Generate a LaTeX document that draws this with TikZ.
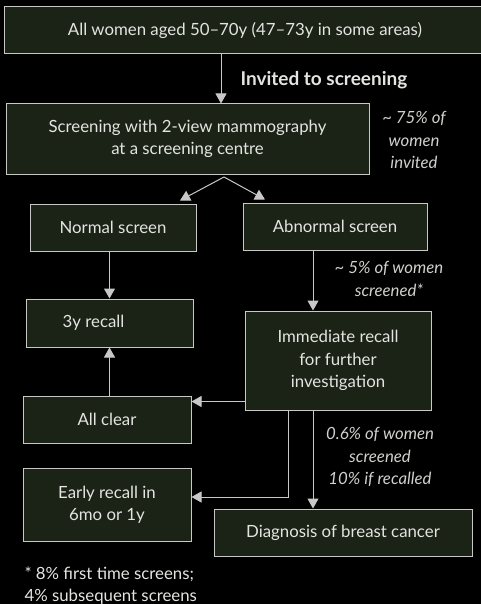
\documentclass[tikz,border=0pt]{standalone}
\usepackage{fontspec}
\setmainfont{Lato}
\usetikzlibrary{positioning,arrows.meta,calc}
\definecolor{boxfill}{HTML}{1B2316}
\definecolor{edge}{HTML}{C8C8C6}
\definecolor{ink}{HTML}{E4E4E0}
\definecolor{note}{HTML}{D0D0CC}

\begin{document}
\begin{tikzpicture}[
  x=1pt, y=-1pt,
  font=\fontsize{16.8}{22.5}\selectfont,
  box/.style={draw=edge, fill=boxfill, text=ink, line width=1pt,
              align=center, inner sep=3pt},
  notelabel/.style={text=note, align=center, font=\fontsize{16.8}{22.5}\selectfont\itshape},
  arrow/.style={-{Triangle[width=11pt,length=10pt]}, draw=edge, line width=1pt}
]
\fill[black] (0,0) rectangle (481,604);
\useasboundingbox (0,0) rectangle (481,604);

\node[box, minimum width=482pt, minimum height=47pt] (pop) at (245,30.5)
  {All women aged 50--70y (47--73y in some areas)};
\node[box, minimum width=363pt, minimum height=70pt] (screen) at (187.5,139)
  {Screening with 2-view mammography\\at a screening centre};
\node[box, minimum width=166pt, minimum height=47pt] (normal) at (113,227.5)
  {Normal screen};
\node[box, minimum width=184pt, minimum height=47pt] (abnormal) at (335,226.5)
  {Abnormal screen};
\node[box, minimum width=167pt, minimum height=48pt] (recall) at (109.5,323)
  {\hspace*{-32pt}3y recall};
\node[box, minimum width=186pt, minimum height=99pt] (immediate) at (338,360.5)
  {Immediate recall\\for further\\investigation};
\node[box, minimum width=168pt, minimum height=47pt] (clear) at (107,419.5)
  {All clear};
\node[box, minimum width=168pt, minimum height=73pt] (early) at (107,504.5)
  {Early recall in\\6mo or 1y};
\node[box, minimum width=258pt, minimum height=47pt] (diagnosis) at (343,532.5)
  {Diagnosis of breast cancer};

% labels
\node[text=ink, anchor=west, font=\fontsize{19}{22.5}\selectfont\bfseries] (invited) at (237,80)
  {Invited to screening};
\node[notelabel] (uptake) at (414,140)
  {\textasciitilde{} 75\% of\\women\\invited};
\node[notelabel] (abnrate) at (389,279)
  {\textasciitilde{} 5\% of women\\screened*};
\node[notelabel] (cancerrate) at (380,457)
  {0.6\% of women\\screened\\10\% if recalled};
\node[text=ink, anchor=west, align=left] (footnote) at (21,585.5)
  {* 8\% first time screens;\\4\% subsequent screens};

\coordinate (fork) at (224,177);

\draw[arrow] ([xshift=-24pt]pop.south) -- ([xshift=-24pt]pop.south |- screen.north);
\draw[arrow] (fork) -- ([xshift=67pt,yshift=3pt]normal.north);
\draw[arrow] (fork) -- ([xshift=-70pt,yshift=3pt]abnormal.north);
\draw[arrow] (normal.south -| recall.north) -- (recall.north);
\draw[arrow] ([xshift=-22pt]abnormal.south) -- ([xshift=-22pt]abnormal.south |- immediate.north);
\draw[arrow] (clear.north -| recall.south) -- (recall.south);
\draw[arrow] ([yshift=9pt]immediate.south west) -- ([yshift=9pt]immediate.south west -| clear.east);
\draw[arrow] ([xshift=44pt]immediate.south west) |- ([yshift=7.5pt]early.east);
\draw[arrow] ([xshift=-25pt]immediate.south) -- ([xshift=-25pt]immediate.south |- diagnosis.north);
\end{tikzpicture}
\end{document}
